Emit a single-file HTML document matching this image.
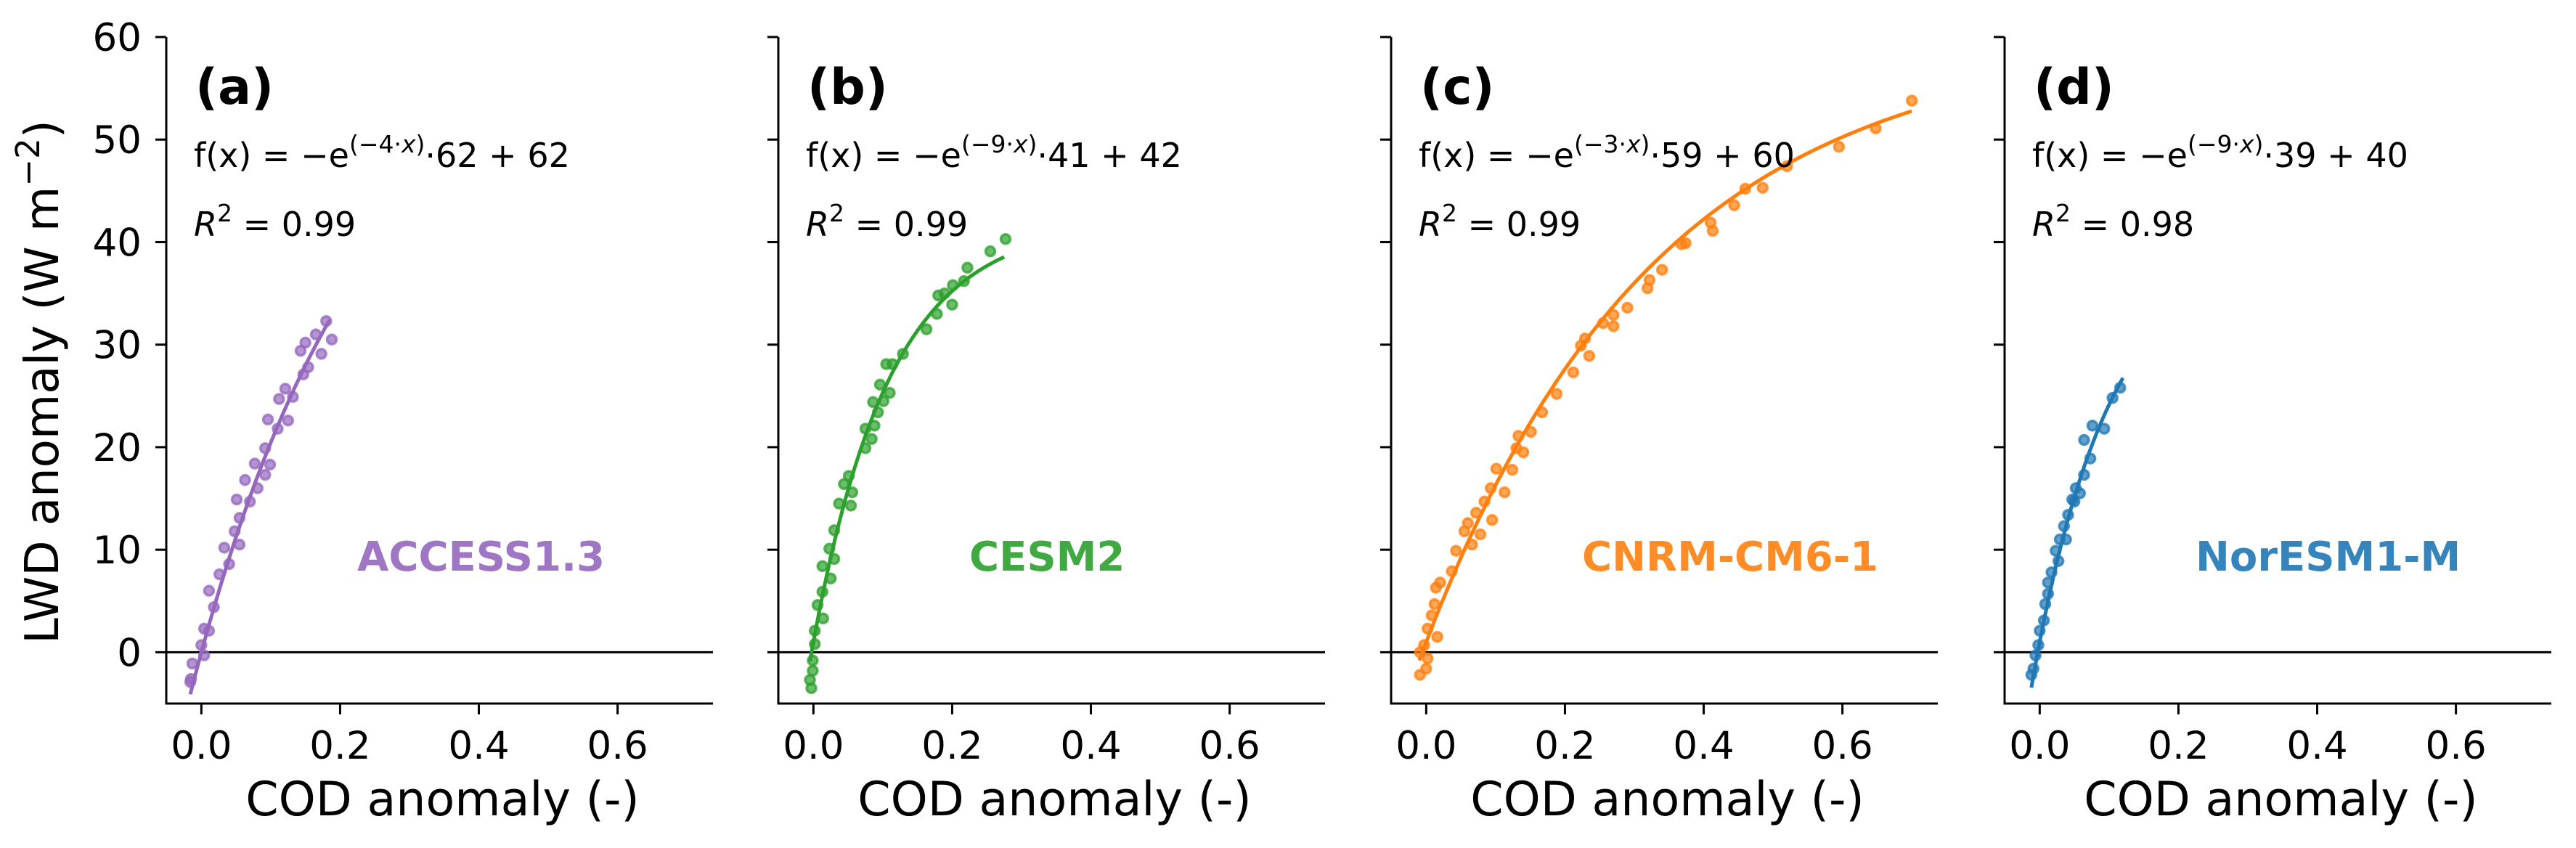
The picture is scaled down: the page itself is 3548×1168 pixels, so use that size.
<!DOCTYPE html>
<html><head><meta charset="utf-8">
<style>
html,body{margin:0;padding:0;background:#fff;}
svg{display:block;font-family:"DejaVu Sans","Liberation Sans",sans-serif;}
</style></head>
<body>
<svg id="fig" width="3548" height="1168" viewBox="0 0 3548 1168" xmlns="http://www.w3.org/2000/svg">
<text transform="translate(80,526) rotate(-90)" text-anchor="middle" font-size="64">LWD anomaly  (W m<tspan dy="-26" font-size="45">−2</tspan><tspan dy="26">)</tspan></text>
</svg>
<script>
const xTicks = [0.0, 0.2, 0.4, 0.6];
const xTickLabels = ["0.0", "0.2", "0.4", "0.6"];
const yTicks = [0, 10, 20, 30, 40, 50, 60];
const yTickLabels = ["0", "10", "20", "30", "40", "50", "60"];
const panelLetters = ["(a)", "(b)", "(c)", "(d)"];
const modelNames = ["ACCESS1.3", "CESM2", "CNRM-CM6-1", "NorESM1-M"];
const fitK = [4, 9, 3, 9];
const fitA = [62, 41, 59, 39];
const fitB = [62, 42, 60, 40];
const r2 = ["0.99", "0.99", "0.99", "0.98"];
const fitXmax = [0.185, 0.275, 0.70, 0.12];
const fitXmin = [-0.016, -0.005, -0.01, -0.012];
const colors = ["#9467bd", "#2ca02c", "#ff7f0e", "#1f77b4"];

const xA = [0.18,0.188,0.173,0.165,0.15,0.143,0.154,0.147,0.121,0.132,0.112,0.096,0.125,0.11,0.092,0.077,0.099,0.092,0.063,0.081,0.051,0.07,0.055,0.048,0.033,0.055,0.04,0.026,0.011,0.018,0.004,0.011,0,0.004,-0.013,-0.015,-0.016];
const yA = [32.3,30.5,29.1,31,30.2,29.4,27.8,27.1,25.7,24.9,24.7,22.7,22.6,21.8,19.9,18.4,18.3,17.3,16.8,16,14.9,14.7,13.1,11.8,10.2,10.5,8.6,7.6,6,4.4,2.3,2.1,0.7,-0.3,-1.1,-2.6,-2.9];
const xB = [0.277,0.255,0.222,0.217,0.201,0.189,0.18,0.2,0.178,0.163,0.129,0.114,0.105,0.096,0.11,0.101,0.086,0.093,0.088,0.075,0.084,0.075,0.051,0.044,0.056,0.037,0.054,0.03,0.023,0.03,0.013,0.025,0.013,0.006,0.014,0.002,0.002,-0.001,-0.001,-0.005,-0.003];
const yB = [40.3,39.1,37.5,36.2,35.8,35,34.8,33.9,33,31.5,29.1,28.1,28.1,26.1,25.3,24.5,24.4,23.4,22.1,21.8,20.8,19.9,17.2,16.4,15.6,14.5,14.3,11.9,10.1,9.1,8.4,7.2,5.9,4.6,3.3,2.1,0.8,-0.8,-1.8,-2.7,-3.5];
const xC = [0.70,0.648,0.595,0.52,0.485,0.46,0.444,0.41,0.413,0.374,0.368,0.34,0.322,0.319,0.29,0.27,0.27,0.255,0.229,0.223,0.235,0.212,0.188,0.167,0.151,0.133,0.13,0.14,0.124,0.101,0.113,0.084,0.093,0.072,0.06,0.055,0.078,0.095,0.066,0.043,0.037,0.014,0.02,0.012,0.008,0.002,0.016,-0.003,-0.009,0.002,-0.009,0];
const yC = [53.8,51.1,49.3,47.4,45.3,45.2,43.6,41.9,41.1,39.9,39.8,37.3,36.3,35.5,33.6,32.9,31.8,32.1,30.6,29.9,28.9,27.3,25.2,23.4,21.5,21.1,19.9,19.5,17.8,17.9,15.6,14.7,16,13.6,12.6,11.8,11.5,12.9,10.5,9.9,7.9,6.3,6.8,4.7,3.6,2.3,1.5,0.7,0,-0.6,-2.2,-1.6];
const xD = [0.116,0.105,0.093,0.076,0.064,0.073,0.064,0.052,0.047,0.058,0.041,0.035,0.038,0.023,0.027,0.017,0.012,0.008,0.006,0,-0.002,-0.006,-0.009,-0.012,0.012,0.029,0.05];
const yD = [25.8,24.8,21.8,22.1,20.7,18.9,17.3,16,14.9,15.5,13.4,12.3,11,9.9,8.9,7.8,5.7,4.7,3.1,2.1,0.7,-0.3,-1.6,-2.2,6.8,11,14.7];
const xsAll = [xA, xB, xC, xD];
const ysAll = [yA, yB, yC, yD];

const NS = "http://www.w3.org/2000/svg";
const svg = document.getElementById("fig");
const panelLeft = [229, 1072, 1916, 2761];
const W = 753, TOP = 51, BOT = 969;
const XMIN = -0.0506, XMAX = 0.7375, YMIN = -5, YMAX = 60;
function mk(tag, attrs, parent) {
  const e = document.createElementNS(NS, tag);
  for (const k in attrs) e.setAttribute(k, attrs[k]);
  (parent || svg).appendChild(e);
  return e;
}
for (let p = 0; p < 4; p++) {
  const L = panelLeft[p];
  const sx = v => L + (v - XMIN) / (XMAX - XMIN) * W;
  const sy = v => BOT - (v - YMIN) / (YMAX - YMIN) * (BOT - TOP);
  const g = mk("g", {});
  
  
  const zl = mk("line", {x1: L, x2: L + W, y1: sy(0), y2: sy(0), stroke: "#000", "stroke-width": 3}, g);
  
  
  const xs = xsAll[p], ys = ysAll[p];
  for (let i = 0; i < xs.length; i++) {
    const c = mk("circle", {cx: sx(xs[i]), cy: sy(ys[i]), r: 6.5, fill: colors[p], "fill-opacity": 0.7, stroke: colors[p], "stroke-opacity": 0.75, "stroke-width": 3.5}, g);
    
    
  }
  let d = "";
  for (let i = 0; i <= 100; i++) {
    const xv = fitXmin[p] + (fitXmax[p] - fitXmin[p]) * i / 100;
    const yv = -Math.exp(-fitK[p] * xv) * fitA[p] + fitB[p];
    d += (i ? "L" : "M") + sx(xv).toFixed(1) + "," + sy(yv).toFixed(1);
  }
  const fl = mk("path", {d: d, fill: "none", stroke: colors[p], "stroke-width": 5}, g);
  
  
  const ls = mk("line", {x1: L, x2: L, y1: TOP, y2: BOT, stroke: "#000", "stroke-width": 3}, g);
  
  
  const bs = mk("line", {x1: L - 1.5, x2: L + W, y1: BOT, y2: BOT, stroke: "#000", "stroke-width": 3}, g);
  
  
  for (let i = 0; i < yTicks.length; i++) {
    const y = sy(yTicks[i]);
    const t = mk("line", {x1: L - 15, x2: L, y1: y, y2: y, stroke: "#000", "stroke-width": 3}, g);
    
    
    if (p === 0) {
      const tl = mk("text", {x: L - 34, y: y + 19, "text-anchor": "end", "font-size": 53}, g);
      tl.textContent = yTickLabels[i];
      
      
    }
  }
  for (let i = 0; i < xTicks.length; i++) {
    const x = sx(xTicks[i]);
    const t = mk("line", {x1: x, x2: x, y1: BOT, y2: BOT + 15, stroke: "#000", "stroke-width": 3}, g);
    
    
    const tl = mk("text", {x: x, y: 1045, "text-anchor": "middle", "font-size": 53}, g);
    tl.textContent = xTickLabels[i];
    
    
  }
  const xt = mk("text", {x: L + W / 2 + 4, y: 1123, "text-anchor": "middle", "font-size": 65}, g);
  xt.textContent = "COD anomaly (-)";
  
  
  const pl = mk("text", {x: L + 40, y: 143, "font-size": 68, "font-weight": "bold"}, g);
  pl.textContent = panelLetters[p];
  
  
  const eq = mk("text", {x: L + 38, y: 230, "font-size": 46}, g);
  eq.innerHTML = 'f(x) = −e<tspan dy="-20" font-size="33">(−' + fitK[p] + '·<tspan font-style="italic">x</tspan>)</tspan><tspan dy="20">·' + fitA[p] + ' + ' + fitB[p] + '</tspan>';
  
  
  const rr = mk("text", {x: L + 38, y: 325, "font-size": 46}, g);
  rr.innerHTML = '<tspan font-style="italic">R</tspan><tspan dy="-20" font-size="33">2</tspan><tspan dy="20"> = ' + r2[p] + '</tspan>';
  
  
  const mn = mk("text", {x: L + 263, y: 786, "font-size": 56, "font-weight": "bold", fill: colors[p], "fill-opacity": 0.9}, g);
  mn.textContent = modelNames[p];
  
  
}
</script>
</body></html>
